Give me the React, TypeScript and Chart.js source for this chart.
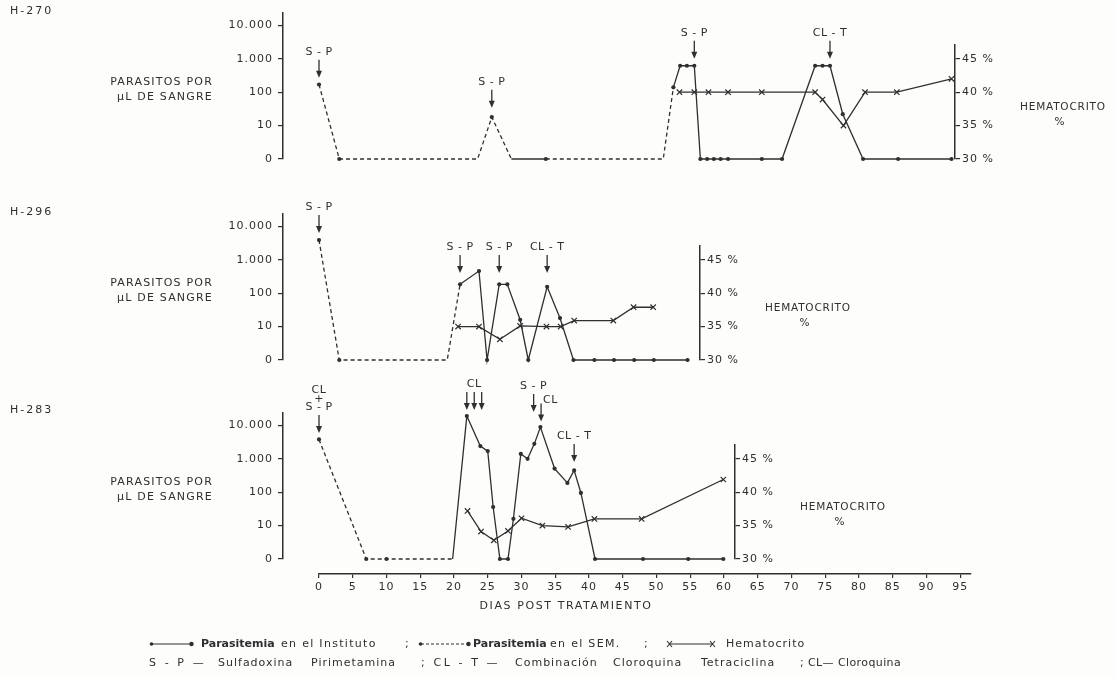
import React, { useEffect, useRef } from "react";
import { Chart, registerables } from "chart.js";

Chart.register(...registerables);

// ---------------- data ----------------
// Parasitemia values are parasites per µL ("0" = none); source: "S" = SEM (dashed), "I" = Instituto (solid)
// measured: 1 = plotted point, 0 = bend of the line without a dot

// H-270
const h270Days = [0, 3, 23.5, 25.6, 28.5, 33.6, 51, 52.5, 53.5, 54.5, 55.6, 56.5, 57.5, 58.5, 59.5, 60.6, 65.6, 68.6, 73.5, 74.6, 75.7, 77.6, 80.6, 85.8, 93.7];
const h270Para = [170, 0, 0, 18, 0, 0, 0, 140, 620, 620, 620, 0, 0, 0, 0, 0, 0, 0, 620, 620, 620, 22, 0, 0, 0];
const h270Source = ["S", "S", "S", "S", "I", "S", "S", "I", "I", "I", "I", "I", "I", "I", "I", "I", "I", "I", "I", "I", "I", "I", "I", "I", "I"];
const h270Measured = [1, 1, 0, 1, 0, 1, 0, 1, 1, 1, 1, 1, 1, 1, 1, 1, 1, 1, 1, 1, 1, 1, 1, 1, 1];
const h270HemDays = [53.4, 55.6, 57.7, 60.6, 65.6, 73.5, 74.6, 77.7, 80.9, 85.6, 93.7];
const h270Hem = [40, 40, 40, 40, 40, 40, 38.9, 35, 40, 40, 42];
const h270Notes = [
  { label: ["S - P"], days: [0], tip: 270 },
  { label: ["S - P"], days: [25.6], tip: 34 },
  { label: ["S - P"], days: [55.6], tip: 1000 },
  { label: ["CL - T"], days: [75.7], tip: 1000 },
];

// H-296
const h296Days = [0, 3, 19, 20.9, 23.7, 24.9, 26.7, 27.9, 29.8, 31, 33.8, 35.7, 37.7, 40.8, 43.7, 46.7, 49.6, 54.6];
const h296Para = [3900, 0, 0, 185, 460, 0, 185, 185, 16, 0, 155, 18, 0, 0, 0, 0, 0, 0];
const h296Source = ["S", "S", "S", "I", "I", "I", "I", "I", "I", "I", "I", "I", "I", "I", "I", "I", "I", "I"];
const h296Measured = [1, 1, 0, 1, 1, 1, 1, 1, 1, 1, 1, 1, 1, 1, 1, 1, 1, 1];
const h296HemDays = [20.6, 23.7, 26.8, 29.8, 33.7, 35.8, 37.8, 43.6, 46.6, 49.5];
const h296Hem = [35, 35, 33.1, 35.1, 35, 35, 35.9, 35.9, 37.9, 37.9];
const h296Notes = [
  { label: ["S - P"], days: [0], tip: 6300 },
  { label: ["S - P"], days: [20.9], tip: 400 },
  { label: ["S - P"], days: [26.7], tip: 400 },
  { label: ["CL - T"], days: [33.8], tip: 400 },
];

// H-283
const h283Days = [0, 7, 10, 19.8, 21.9, 23.9, 25, 25.8, 26.8, 28, 28.8, 29.9, 30.9, 31.9, 32.8, 34.9, 36.8, 37.8, 38.8, 40.9, 48, 54.7, 59.9];
const h283Para = [3800, 0, 0, 0, 19000, 2400, 1700, 36, 0, 0, 16, 1400, 1000, 2800, 8900, 510, 190, 450, 95, 0, 0, 0, 0];
const h283Source = ["S", "S", "S", "I", "I", "I", "I", "I", "I", "I", "I", "I", "I", "I", "I", "I", "I", "I", "I", "I", "I", "I", "I"];
const h283Measured = [1, 1, 1, 0, 1, 1, 1, 1, 1, 1, 1, 1, 1, 1, 1, 1, 1, 1, 1, 1, 1, 1, 1];
const h283HemDays = [22, 24, 25.9, 28, 30, 33.1, 36.9, 40.8, 47.8, 59.9];
const h283Hem = [37.2, 34.1, 32.8, 34.2, 36.1, 35, 34.8, 36, 36, 41.9];
const h283Notes = [
  { label: ["CL", "+", "S - P"], days: [0], tip: 5900 },
  { label: ["CL"], days: [21.9, 23, 24.1], tip: 29000 },
  { label: ["S - P"], days: [31.8], tip: 25000 },
  { label: ["CL"], days: [32.9], tip: 13000, side: "right" },
  { label: ["CL - T"], days: [37.8], tip: 800 },
];

// axes
const PARA_TICKS = [1, 10, 100, 1000, 10000];
const PARA_TICK_LABELS = ["0", "10", "100", "1.000", "10.000"];
const HEM_TICKS = [30, 35, 40, 45];
const HEM_TICK_LABELS = ["30 %", "35 %", "40 %", "45 %"];
const DAY_TICKS = [0, 5, 10, 15, 20, 25, 30, 35, 40, 45, 50, 55, 60, 65, 70, 75, 80, 85, 90, 95];

// ---------------- layout / style ----------------
const PAGE_W = 1116;
const PAGE_H = 677;
const BG = "#fdfdfc";
const INK = "#2f2f2f";
const FONT = "'DejaVu Sans', 'Liberation Sans', sans-serif";
const PLOT_LEFT = 283;
const DAY0_PX = 319;
const PX_PER_DAY = 6.75;
const DECADE_PX = 33.4;
const PARA_AXIS_H = 146;
const HEM_AXIS_H = 114;
const AXIS_W = 60;
const DAY_AXIS_Y = 574;
const DAY_AXIS_END = 96.5;
const ARROW_LEN = 18;
const LABEL_GAP = 26;
const LINE_H = 8.3;

const PANELS = [
  { name: "H-270", zeroPx: 159, rightPx: 955, nameY: 11, days: h270Days, para: h270Para, source: h270Source, measured: h270Measured, hemDays: h270HemDays, hem: h270Hem, notes: h270Notes },
  { name: "H-296", zeroPx: 360, rightPx: 700, nameY: 212, days: h296Days, para: h296Para, source: h296Source, measured: h296Measured, hemDays: h296HemDays, hem: h296Hem, notes: h296Notes },
  { name: "H-283", zeroPx: 559, rightPx: 735, nameY: 410, days: h283Days, para: h283Para, source: h283Source, measured: h283Measured, hemDays: h283HemDays, hem: h283Hem, notes: h283Notes },
];

const tickFont = { family: FONT, size: 11 };

const spacingPlugin = {
  id: "spacing",
  beforeDraw(chart: any) {
    chart.ctx.letterSpacing = "1px";
  },
};

function makeNotesPlugin(notes: any[]) {
  return {
    id: "treatments",
    afterDatasetsDraw(chart: any) {
      const { ctx } = chart;
      const x = chart.scales.x;
      const y = chart.scales.y;
      ctx.save();
      ctx.letterSpacing = "0.5px";
      ctx.fillStyle = INK;
      ctx.strokeStyle = INK;
      ctx.lineWidth = 1.3;
      ctx.font = `11px ${FONT}`;
      ctx.textBaseline = "middle";
      for (const n of notes) {
        const tipY = y.getPixelForValue(n.tip);
        const xs = n.days.map((d: number) => x.getPixelForValue(d));
        for (const px of xs) {
          ctx.beginPath();
          ctx.moveTo(px, tipY - ARROW_LEN);
          ctx.lineTo(px, tipY - 5);
          ctx.stroke();
          ctx.beginPath();
          ctx.moveTo(px - 3, tipY - 7);
          ctx.lineTo(px + 3, tipY - 7);
          ctx.lineTo(px, tipY);
          ctx.closePath();
          ctx.fill();
        }
        const cx = xs.reduce((a: number, b: number) => a + b, 0) / xs.length;
        if (n.side === "right") {
          ctx.textAlign = "left";
          ctx.fillText(n.label[0], cx + 2, tipY - ARROW_LEN - 3);
        } else {
          ctx.textAlign = "center";
          n.label.forEach((t: string, i: number) => {
            const k = n.label.length - 1 - i;
            ctx.fillText(t, cx, tipY - LABEL_GAP - k * LINE_H);
          });
        }
      }
      ctx.restore();
    },
  };
}

const baseOptions = {
  animation: false,
  responsive: false,
  maintainAspectRatio: false,
  devicePixelRatio: 1,
  events: [],
};

function paraConfig(p: any) {
  const xMin = (PLOT_LEFT - DAY0_PX) / PX_PER_DAY;
  const xMax = (p.rightPx - DAY0_PX) / PX_PER_DAY;
  return {
    type: "line",
    data: {
      datasets: [
        {
          data: p.days.map((d: number, i: number) => ({ x: d, y: Math.max(p.para[i], 1) })),
          borderColor: INK,
          backgroundColor: INK,
          borderWidth: 1.3,
          pointRadius: p.measured.map((m: number) => (m ? 2.1 : 0)),
          pointBorderWidth: 0,
          pointHoverRadius: 0,
          tension: 0,
          clip: false,
          segment: {
            borderDash: (c: any) => (p.source[c.p0DataIndex] === "S" ? [4, 3] : []),
          },
        },
      ],
    },
    options: {
      ...baseOptions,
      layout: {
        padding: {
          left: PLOT_LEFT - AXIS_W,
          right: PAGE_W - p.rightPx,
          top: p.zeroPx - PARA_AXIS_H,
          bottom: PAGE_H - p.zeroPx,
        },
      },
      plugins: { legend: { display: false }, tooltip: { enabled: false } },
      scales: {
        x: { type: "linear", min: xMin, max: xMax, display: false },
        y: {
          type: "logarithmic",
          position: "left",
          min: 1,
          max: Math.pow(10, PARA_AXIS_H / DECADE_PX),
          afterBuildTicks: (s: any) => {
            s.ticks = PARA_TICKS.map((v) => ({ value: v }));
          },
          afterFit: (s: any) => {
            s.width = AXIS_W;
          },
          ticks: {
            callback: (_v: any, i: number) => PARA_TICK_LABELS[i],
            color: INK,
            font: tickFont,
            padding: 5,
          },
          grid: { drawOnChartArea: false, drawTicks: true, tickLength: 5, color: INK, lineWidth: 1.2 },
          border: { display: true, color: INK, width: 1.5 },
        },
      },
    },
    plugins: [spacingPlugin, makeNotesPlugin(p.notes)],
  };
}

function hemConfig(p: any) {
  const xMin = (PLOT_LEFT - DAY0_PX) / PX_PER_DAY;
  const xMax = (p.rightPx - DAY0_PX) / PX_PER_DAY;
  return {
    type: "line",
    data: {
      datasets: [
        {
          data: p.hemDays.map((d: number, i: number) => ({ x: d, y: p.hem[i] })),
          borderColor: INK,
          backgroundColor: INK,
          borderWidth: 1.3,
          pointStyle: "crossRot",
          pointRadius: 3.8,
          pointBorderWidth: 1.2,
          pointHoverRadius: 0,
          tension: 0,
          clip: false,
        },
      ],
    },
    options: {
      ...baseOptions,
      layout: {
        padding: {
          left: PLOT_LEFT,
          right: PAGE_W - p.rightPx - AXIS_W,
          top: p.zeroPx - HEM_AXIS_H,
          bottom: PAGE_H - p.zeroPx,
        },
      },
      plugins: { legend: { display: false }, tooltip: { enabled: false } },
      scales: {
        x: { type: "linear", min: xMin, max: xMax, display: false },
        y: {
          type: "linear",
          position: "right",
          min: 30,
          max: 30 + (HEM_AXIS_H / DECADE_PX) * 5,
          afterBuildTicks: (s: any) => {
            s.ticks = HEM_TICKS.map((v) => ({ value: v }));
          },
          afterFit: (s: any) => {
            s.width = AXIS_W;
          },
          ticks: {
            callback: (_v: any, i: number) => HEM_TICK_LABELS[i],
            color: INK,
            font: tickFont,
            padding: 2,
          },
          grid: { drawOnChartArea: false, drawTicks: true, tickLength: 5, color: INK, lineWidth: 1.2 },
          border: { display: true, color: INK, width: 1.5 },
        },
      },
    },
    plugins: [spacingPlugin],
  };
}

function dayAxisConfig() {
  const rightPx = DAY0_PX + DAY_AXIS_END * PX_PER_DAY;
  return {
    type: "scatter",
    data: { datasets: [] },
    options: {
      ...baseOptions,
      layout: {
        padding: { left: DAY0_PX, right: PAGE_W - rightPx, top: DAY_AXIS_Y - 14, bottom: PAGE_H - DAY_AXIS_Y - 20 },
      },
      plugins: { legend: { display: false }, tooltip: { enabled: false } },
      scales: {
        x: {
          type: "linear",
          position: "bottom",
          min: 0,
          max: DAY_AXIS_END,
          afterBuildTicks: (s: any) => {
            s.ticks = DAY_TICKS.map((v) => ({ value: v }));
          },
          afterFit: (s: any) => {
            s.height = 20;
          },
          ticks: { color: INK, font: tickFont, padding: 3, maxRotation: 0, autoSkip: false },
          grid: { drawOnChartArea: false, drawTicks: true, tickLength: 4, color: INK, lineWidth: 1.2 },
          border: { display: true, color: INK, width: 1.5 },
        },
        y: { display: false, min: 0, max: 1 },
      },
    },
    plugins: [spacingPlugin],
  };
}

function T(props: { x: number; y: number; children: any; align?: string; size?: number; ls?: number; bold?: boolean }) {
  const { x, y, children, align = "left", size = 11, ls = 1, bold = false } = props;
  const style: any = {
    position: "absolute",
    top: y - 8,
    lineHeight: "16px",
    fontSize: size,
    letterSpacing: ls,
    fontWeight: bold ? 700 : 400,
    whiteSpace: "pre",
    color: INK,
    fontFamily: FONT,
  };
  if (align === "left") style.left = x;
  else if (align === "right") style.right = PAGE_W - x;
  else {
    style.left = x;
    style.transform = "translateX(-50%)";
  }
  return <div style={style}>{children}</div>;
}

function Mark(props: { x: number; y: number; w: number; kind: string }) {
  const { x, y, w, kind } = props;
  return (
    <svg style={{ position: "absolute", left: x, top: y - 5 }} width={w} height={10}>
      <line x1={3} y1={5} x2={w - 3} y2={5} stroke={INK} strokeWidth={1.2} strokeDasharray={kind === "dash" ? "3 2" : undefined} />
      {kind === "cross" ? (
        <g stroke={INK} strokeWidth={1.1}>
          <path d={`M1 2 L6 8 M1 8 L6 2`} />
          <path d={`M${w - 6} 2 L${w - 1} 8 M${w - 6} 8 L${w - 1} 2`} />
        </g>
      ) : (
        <g fill={INK}>
          <circle cx={2.5} cy={5} r={1.8} />
          <circle cx={w - 2.5} cy={5} r={2.2} />
        </g>
      )}
    </svg>
  );
}

export default function App() {
  const refs = useRef<(HTMLCanvasElement | null)[]>([]);
  useEffect(() => {
    const cfgs: any[] = [];
    PANELS.forEach((p) => {
      cfgs.push(paraConfig(p));
      cfgs.push(hemConfig(p));
    });
    cfgs.push(dayAxisConfig());
    const charts: Chart[] = [];
    cfgs.forEach((cfg, i) => {
      const c = refs.current[i];
      if (c) charts.push(new Chart(c, cfg));
    });
    return () => charts.forEach((c) => c.destroy());
  }, []);

  const L1 = 644;
  const L2 = 663;
  return (
    <div style={{ position: "fixed", left: 0, top: 0, width: PAGE_W, height: PAGE_H, background: BG, overflow: "hidden" }}>
      {Array.from({ length: 7 }).map((_, i) => (
        <canvas
          key={i}
          ref={(el) => {
            refs.current[i] = el;
          }}
          width={PAGE_W}
          height={PAGE_H}
          style={{ position: "absolute", left: 0, top: 0, width: PAGE_W, height: PAGE_H }}
        />
      ))}
      {PANELS.map((p) => (
        <React.Fragment key={p.name}>
          <T x={10} y={p.nameY} ls={2}>{p.name}</T>
          <T x={213} y={p.zeroPx - 77} align="right" ls={1.2}>PARASITOS POR</T>
          <T x={213} y={p.zeroPx - 62} align="right" ls={1.2}>µL DE SANGRE</T>
          <T x={p.rightPx + 65} y={p.zeroPx - 53} size={10.5} ls={0.8}>HEMATOCRITO</T>
          <T x={p.rightPx + 105} y={p.zeroPx - 38} align="center" size={10.5}>%</T>
        </React.Fragment>
      ))}
      <T x={566} y={606} align="center" ls={1.6}>DIAS POST TRATAMIENTO</T>

      <Mark x={149} y={L1} w={45} kind="solid" />
      <T x={201} y={L1} bold ls={0}>Parasitemia</T>
      <T x={281} y={L1} ls={1.3}>en el Instituto</T>
      <T x={405} y={L1}>;</T>
      <Mark x={418} y={L1} w={53} kind="dash" />
      <T x={473} y={L1} bold ls={0}>Parasitemia</T>
      <T x={550} y={L1} ls={1.3}>en el SEM.</T>
      <T x={644} y={L1}>;</T>
      <Mark x={666} y={L1} w={50} kind="cross" />
      <T x={726} y={L1}>Hematocrito</T>

      <T x={149} y={L2} ls={2.6}>S - P —</T>
      <T x={218} y={L2}>Sulfadoxina</T>
      <T x={311} y={L2}>Pirimetamina</T>
      <T x={421} y={L2} ls={2.6}>; CL - T —</T>
      <T x={515} y={L2}>Combinación</T>
      <T x={613} y={L2}>Cloroquina</T>
      <T x={701} y={L2}>Tetraciclina</T>
      <T x={800} y={L2} ls={0.4}>; CL— Cloroquina</T>
    </div>
  );
}
